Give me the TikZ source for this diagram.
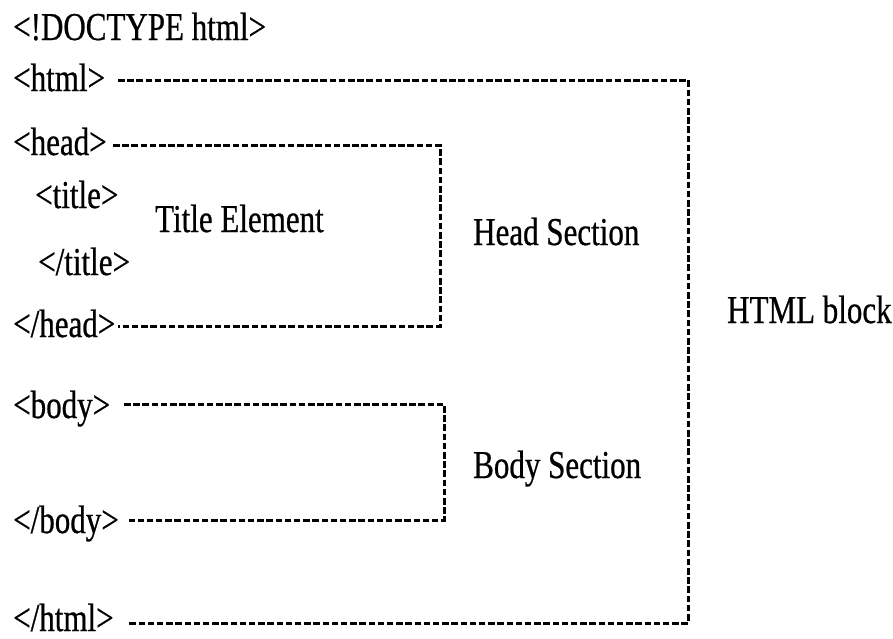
\documentclass[tikz,border=0pt]{standalone}
\usepackage{fontspec}
\setmainfont[FakeStretch=0.785,FakeBold=0.6]{Liberation Serif}
\begin{document}
\begin{tikzpicture}[x=1pt,y=-1pt,
  tag/.style={anchor=base west,inner sep=0pt,font=\fontsize{39.5}{47}\selectfont},
  dline/.style={draw=black,line width=3pt,dash pattern=on 6.5pt off 2.7pt}]
\useasboundingbox (0,0) rectangle (893,638);

% markup lines
\node[tag] (doctype) at (13,40)  {<!DOCTYPE html>};
\node[tag] (htmlo)   at (13,91)  {<html>};
\node[tag] (heado)   at (13,155) {<head>};
\node[tag] (titleo)  at (35,208) {<title>};
\node[tag] (titlec)  at (38,275) {</title>};
\node[tag] (headc)   at (13,337) {</head>};
\node[tag] (bodyo)   at (13,418) {<body>};
\node[tag] (bodyc)   at (13,533) {</body>};
\node[tag] (htmlc)   at (13,631) {</html>};

% section labels
\node[tag] (tel)  at (155,232) {Title Element};
\node[tag] (hsec) at (473,245) {Head Section};
\node[tag] (bsec) at (473,478) {Body Section};
\node[tag] (hblk) at (727,323) {HTML block};

% bracket corners
\coordinate (h1) at (118,80);
\coordinate (h2) at (688,80);
\coordinate (h3) at (688,623);
\coordinate (h4) at (127,623);

\coordinate (d1) at (113,145);
\coordinate (d2) at (440,145);
\coordinate (d3) at (440,326);
\coordinate (d4) at (118,326);

\coordinate (b1) at (124,404);
\coordinate (b2) at (444,404);
\coordinate (b3) at (444,520);
\coordinate (b4) at (129,520);

\draw[dline] (h1) -- (h2) -- (h3) -- (h4);
\draw[dline] (d1) -- (d2) -- (d3) -- (d4);
\draw[dline] (b1) -- (b2) -- (b3) -- (b4);
\end{tikzpicture}
\end{document}
